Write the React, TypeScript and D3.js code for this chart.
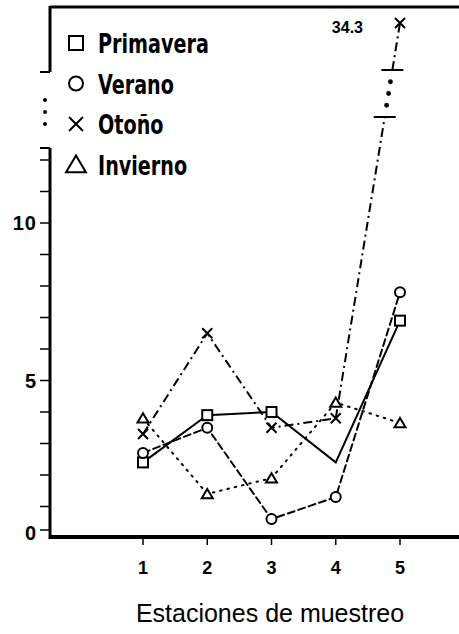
import * as d3 from "d3";

// Estaciones de muestreo 1..5
const stations = [1, 2, 3, 4, 5];
const primavera = [2.4, 3.9, 4.0, 2.4, 6.9];
const verano = [2.7, 3.5, 0.6, 1.3, 7.8];
const otono = [3.3, 6.5, 3.5, 3.8, 34.3];
const invierno = [3.8, 1.4, 1.9, 4.3, 3.65];
const yTickLabels = [0, 5, 10];
const seriesNames = ["Primavera", "Verano", "Otoño", "Invierno"];

const W = 459;
const H = 634;
const axisX = 50;
const axisY = 537;
const breakLowY = 117; // where the lower part of the broken line stops
const breakHighY = 70; // where the upper part starts

const x = d3.scaleLinear().domain([1, 5]).range([143, 400]);
const yLow = d3.scaleLinear().domain([0, 10]).range([538, 223]);
const yHigh = d3.scaleLinear().domain([30, 34.3]).range([72, 23]);
const yv = (v: number) => (v > 20 ? yHigh(v) : yLow(v));

const tickFont = "'Liberation Sans', Arial, sans-serif";
const legendFont = "'DejaVu Sans Condensed', 'DejaVu Sans', sans-serif";

function Marker({ kind, cx, cy, s = 6 }: { kind: string; cx: number; cy: number; s?: number }) {
  const common = { fill: "white", stroke: "black", strokeWidth: 2 };
  if (kind === "square")
    return <rect x={cx - s} y={cy - s} width={s * 2} height={s * 2} {...common} />;
  if (kind === "circle") return <circle cx={cx} cy={cy} r={s} {...common} />;
  if (kind === "cross")
    return (
      <path
        d={`M${cx - s},${cy - s}L${cx + s},${cy + s}M${cx - s},${cy + s}L${cx + s},${cy - s}`}
        stroke="black"
        strokeWidth={2}
        fill="none"
      />
    );
  return (
    <path
      d={`M${cx},${cy - s}L${cx + s * 1.1},${cy + s * 0.85}L${cx - s * 1.1},${cy + s * 0.85}Z`}
      {...common}
    />
  );
}

export default function App() {
  const series = [
    { name: seriesNames[0], data: primavera, kind: "square", dash: "none" },
    { name: seriesNames[1], data: verano, kind: "circle", dash: "7,4" },
    { name: seriesNames[2], data: otono, kind: "cross", dash: "9,4,2,4" },
    { name: seriesNames[3], data: invierno, kind: "triangle", dash: "1.5,6" },
  ];
  const line = d3
    .line<number>()
    .x((_, i) => x(stations[i]))
    .y((d) => yv(d));

  // Otoño: split the last segment across the break
  const o4 = [x(4), yv(otono[3])];
  const o5 = [x(5), yv(otono[4])];
  const atY = (yy: number) => o4[0] + ((o5[0] - o4[0]) * (o4[1] - yy)) / (o4[1] - o5[1]);

  const minorTicks = d3.range(0, 13);

  return (
    <svg width={W} height={H} style={{ position: "absolute", left: 0, top: 0, background: "white" }}>
      {/* frame */}
      <line x1={axisX} y1={7} x2={W} y2={7} stroke="black" strokeWidth={3} />
      <line x1={axisX} y1={6} x2={axisX} y2={72} stroke="black" strokeWidth={3} />
      <line x1={40} y1={72} x2={axisX} y2={72} stroke="black" strokeWidth={2} />
      {[100, 112, 124].map((d) => (
        <circle key={d} cx={45} cy={d} r={2} fill="black" />
      ))}
      <line x1={axisX} y1={148} x2={axisX} y2={axisY + 2} stroke="black" strokeWidth={3} />
      <line x1={40} y1={148} x2={axisX} y2={148} stroke="black" strokeWidth={2} />
      <line x1={axisX - 1} y1={axisY} x2={W} y2={axisY} stroke="black" strokeWidth={4} />

      {/* y ticks */}
      {minorTicks.map((t) => (
        <line key={t} x1={40} y1={yLow(t) - (t === 0 ? 8 : 0)} x2={axisX} y2={yLow(t) - (t === 0 ? 8 : 0)} stroke="black" strokeWidth={1.5} />
      ))}
      {yTickLabels.map((t) => (
        <text
          key={t}
          x={37}
          y={yLow(t) + 7 - (t === 0 ? 5 : 0)}
          textAnchor="end"
          fontFamily={tickFont}
          fontWeight="bold"
          fontSize={20}
          letterSpacing={1}
        >
          {t}
        </text>
      ))}

      {/* x ticks */}
      {stations.map((s) => (
        <g key={s}>
          <line x1={x(s)} y1={axisY} x2={x(s)} y2={axisY + 8} stroke="black" strokeWidth={1.5} />
          <text x={x(s)} y={axisY + 37} textAnchor="middle" fontFamily={tickFont} fontWeight="bold" fontSize={18}>
            {s}
          </text>
        </g>
      ))}
      <text x={270} y={622} textAnchor="middle" fontFamily={tickFont} fontSize={25}>
        Estaciones de muestreo
      </text>

      {/* lines */}
      {series.map((s) =>
        s.kind === "cross" ? (
          <g key={s.name}>
            <path d={line(s.data.slice(0, 4)) ?? ""} fill="none" stroke="black" strokeWidth={2} strokeDasharray={s.dash} />
            <path d={`M${o4[0]},${o4[1]}L${atY(breakLowY)},${breakLowY}`} fill="none" stroke="black" strokeWidth={2} strokeDasharray={s.dash} />
            <path d={`M${atY(breakHighY)},${breakHighY}L${o5[0]},${o5[1]}`} fill="none" stroke="black" strokeWidth={2} strokeDasharray={s.dash} />
            <line x1={atY(breakLowY) - 11} y1={breakLowY} x2={atY(breakLowY) + 11} y2={breakLowY} stroke="black" strokeWidth={2} />
            <line x1={atY(breakHighY) - 11} y1={breakHighY} x2={atY(breakHighY) + 11} y2={breakHighY} stroke="black" strokeWidth={2} />
            {[0.25, 0.5, 0.75].map((f) => {
              const yy = breakLowY - (breakLowY - breakHighY) * f;
              return <circle key={f} cx={atY(yy)} cy={yy} r={2.4} fill="black" />;
            })}
          </g>
        ) : (
          <path key={s.name} d={line(s.data) ?? ""} fill="none" stroke="black" strokeWidth={2} strokeDasharray={s.dash} strokeLinecap="round" />
        )
      )}

      {/* markers */}
      {series.map((s) =>
        s.data.map((v, i) =>
          s.kind === "square" && i === 3 ? null : (
            <Marker key={s.name + i} kind={s.kind} cx={x(stations[i])} cy={yv(v)} s={5} />
          )
        )
      )}
      <text x={363} y={33} textAnchor="end" fontFamily={tickFont} fontWeight="bold" fontSize={16}>
        {otono[4]}
      </text>

      {/* legend */}
      {series.map((s, i) => (
        <g key={s.name} transform={`translate(0,${43 + i * 40.5})`}>
          <Marker kind={s.kind} cx={76} cy={0} s={s.kind === "triangle" ? 9 : 7} />
          <text
            transform="translate(98,10) scale(0.82,1)"
            fontFamily={legendFont}
            fontWeight="bold"
            fontSize={26}
          >
            {s.name}
          </text>
        </g>
      ))}
    </svg>
  );
}
